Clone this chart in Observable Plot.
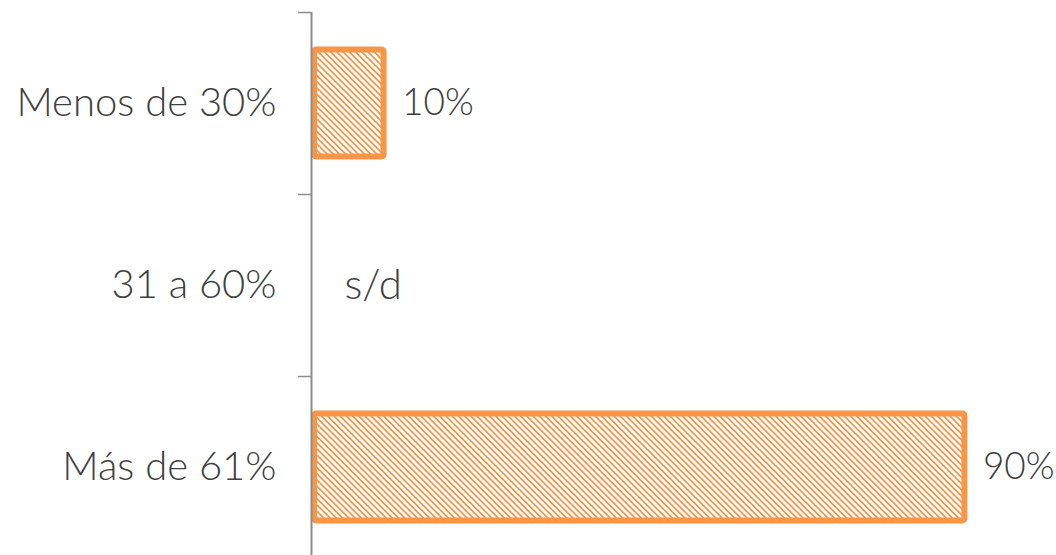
<!DOCTYPE html>
<html>
<head>
<meta charset="utf-8">
<script src="https://cdn.jsdelivr.net/npm/d3@7"></script>
<script src="https://cdn.jsdelivr.net/npm/@observablehq/plot@0.6"></script>
<style>
  html, body { margin: 0; padding: 0; background: #fff; }
  #chart svg { display: block; }
</style>
</head>
<body>
<div id="chart"></div>
<script>
const categories = ["Menos de 30%", "31 a 60%", "Más de 61%"];
const values = [10, null, 90];
const valueLabels = ["10%", "s/d", "90%"];

const rows = categories.map((c, i) => ({cat: c, idx: i, value: values[i], label: valueLabels[i]}));
const bars = rows.filter(d => d.value != null);
const missing = rows.filter(d => d.value == null);

const orange = "#F79646";
const textColor = "#404040";
const axisColor = "#8c8c8c";
const font = "Lato";

const plot = Plot.plot({
  width: 1056,
  height: 555,
  marginLeft: 311,
  marginRight: 19,
  marginTop: 12,
  marginBottom: 0,
  style: {fontFamily: font, background: "#fff", overflow: "visible"},
  x: {type: "linear", domain: [0, 100], axis: null},
  y: {type: "linear", domain: [0, 3], range: [12, 558], axis: null},
  marks: [
    Plot.rectX(bars, {
      x1: 0, x2: "value",
      y1: d => d.idx, y2: d => d.idx + 1,
      insetTop: 37.5, insetBottom: 37.5, insetLeft: 3,
      fill: "url(#hatch)", stroke: orange, strokeWidth: 6,
      rx: 2
    }),
    Plot.axisY({
      ticks: [0, 1, 2, 3], tickSize: 13, tickFormat: () => "",
      stroke: axisColor, strokeWidth: 1.5
    }),
    Plot.ruleX([0], {y1: 0, y2: 3, stroke: axisColor, strokeWidth: 2}),
    Plot.text(rows, {
      x: 0, y: d => d.idx + 0.5, text: "cat",
      textAnchor: "end", dx: -35, fontSize: 40, fontWeight: 300, fill: textColor
    }),
    Plot.text(bars, {
      x: "value", y: d => d.idx + 0.5, text: "label",
      textAnchor: "start", dx: 18,
      fontSize: 37, fontWeight: 300, fill: textColor
    }),
    Plot.text(missing, {
      x: 0, y: d => d.idx + 0.5, text: "label",
      textAnchor: "start", dx: 33,
      fontSize: 42, fontWeight: 300, fill: textColor
    })
  ]
});

document.getElementById("chart").appendChild(plot);

// hatch pattern definition
const svg = d3.select(plot);
const defs = svg.insert("defs", ":first-child");
const pat = defs.append("pattern")
  .attr("id", "hatch")
  .attr("patternUnits", "userSpaceOnUse")
  .attr("width", 4.4).attr("height", 4.4)
  .attr("patternTransform", "rotate(45)");
pat.append("rect").attr("width", 4.4).attr("height", 4.4).attr("fill", "#fff");
pat.append("rect").attr("width", 4.4).attr("height", 1.8).attr("fill", orange);
</script>
</body>
</html>
